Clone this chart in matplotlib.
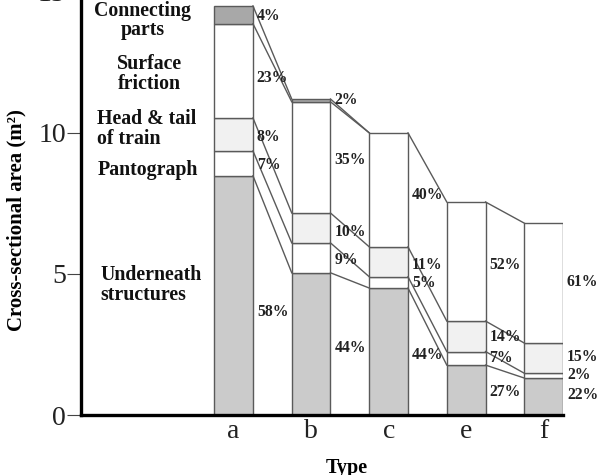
import matplotlib
matplotlib.use("Agg")
import matplotlib.pyplot as plt
import numpy as np

plt.rcParams['font.family'] = ['Liberation Serif', 'DejaVu Serif']

# data
types = ['a', 'b', 'c', 'e', 'f']
components = ['Underneath\nstructures', 'Pantograph', 'Head & tail\nof train',
              'Surface\nfriction', 'Connecting\nparts']
underneath = [8.48, 5.04, 4.50, 1.77, 1.31]
pantograph = [0.88, 1.06, 0.40, 0.48, 0.17]
head_tail = [1.17, 1.06, 1.06, 1.08, 1.07]
surface = [3.34, 3.94, 4.04, 4.22, 4.25]
connecting = [0.63, 0.10, 0.0, 0.0, 0.0]

pct_labels = [
    ['58%', '7%', '8%', '23%', '4%'],
    ['44%', '9%', '10%', '35%', '2%'],
    ['44%', '5%', '11%', '40%'],
    ['27%', '7%', '14%', '52%'],
    ['22%', '2%', '15%', '61%'],
]
# vertical placement of the percentage labels
pct_y = [
    [3.65, 8.87, 9.86, 11.95, 14.15],
    [2.38, 5.50, 6.49, 9.04, 11.17],
    [2.13, 4.68, 5.32, 7.80],
    [0.82, 2.02, 2.77, 5.32],
    [0.71, 1.42, 2.06, 4.72],
]

layers = np.array([underneath, pantograph, head_tail, surface, connecting])
colors = ['#cbcbcb', 'white', '#f1f1f1', 'white', '#a8a8a8']
edge = '#5a5a5a'
width = 0.5
x = np.arange(len(types))

fig = plt.figure(figsize=(6.02, 4.75), dpi=100)
ax = fig.add_axes([0.1346, 0.1263, 0.8007, 0.891])

bottoms = np.zeros(len(types))
for k in range(len(layers)):
    h = layers[k]
    mask = h > 0
    ax.bar(x[mask], h[mask], width, bottom=bottoms[mask], color=colors[k],
           edgecolor=edge, linewidth=1.0, zorder=2)
    bottoms = bottoms + h

# connector lines between neighbouring bars
tops = np.cumsum(layers, axis=0)
for i in range(len(types) - 1):
    for k in range(len(layers)):
        if layers[k, i] <= 0:
            continue
        ax.plot([x[i] + width / 2, x[i + 1] - width / 2],
                [tops[k, i], tops[k, i + 1]], color=edge, lw=1.0, zorder=3)

# percentage labels
for i in range(len(types)):
    for lab, yy in zip(pct_labels[i], pct_y[i]):
        ax.text(x[i] + width / 2 + 0.05, yy, lab, fontsize=11.3,
                fontweight='bold', color='#222222', va='center', ha='left')

# component names on the left
name_pos = [(-1.72, 4.61, 'left'), (-1.75, 8.69, 'left'), (-1.76, 10.14, 'left'),
            (-1.08, 12.09, 'center'), (-1.17, 13.99, 'center')]
for name, (xx, yy, ha) in zip(components, name_pos):
    ax.text(xx, yy, name, fontsize=14.3, fontweight='bold', ha=ha, va='center',
            linespacing=0.95, multialignment=ha, color='#111111')

ax.set_xlim(-1.968, 4.25)
ax.set_ylim(0, 15)
ax.set_yticks([0, 5, 10, 15])
ax.set_xticks(x)
ax.set_xticklabels(types)
ax.tick_params(axis='x', length=0, pad=3, labelsize=20, labelcolor='#222222')
ax.tick_params(axis='y', length=10, width=0.8, pad=1, labelsize=20,
               labelcolor='#222222', color='#444444')
for s in ['top', 'right']:
    ax.spines[s].set_visible(False)
ax.spines['left'].set_linewidth(2.4)
ax.spines['bottom'].set_linewidth(2.4)

ax.set_ylabel('Cross-sectional area (m²)', fontsize=15, fontweight='bold')
ax.yaxis.label.set_va('center')
ax.yaxis.set_label_coords(-0.133, 0.461)
ax.set_xlabel('Type', fontsize=14.5, fontweight='bold')
ax.xaxis.label.set_va('center')
ax.xaxis.set_label_coords(0.552, -0.125)

fig.savefig('out.png', dpi=100)
